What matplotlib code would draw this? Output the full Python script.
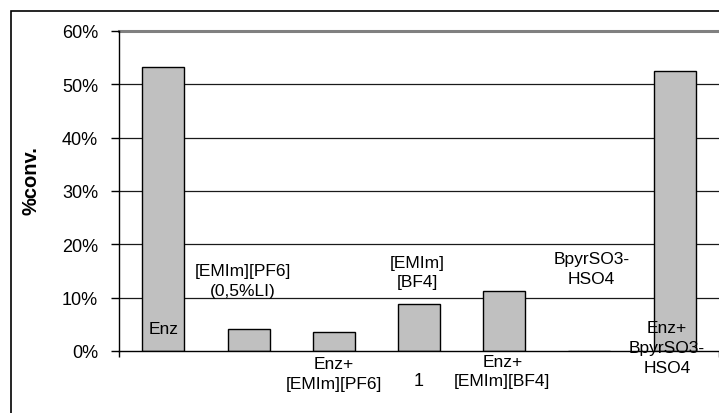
"""Conversion by enzyme / ionic liquid system, single-category Excel-style bar chart."""

import matplotlib
matplotlib.use("Agg")
import matplotlib.pyplot as plt
from matplotlib.patches import Rectangle
from matplotlib.ticker import FuncFormatter

# series names as shown on the data labels
series = [
    "Enz",
    "[EMIm][PF6]\n(0,5%LI)",
    "Enz+\n[EMIm][PF6]",
    "[EMIm]\n[BF4]",
    "Enz+\n[EMIm][BF4]",
    "BpyrSO3-\nHSO4",
    "Enz+\nBpyrSO3-\nHSO4",
]
conversion = [0.532, 0.041, 0.036, 0.088, 0.113, 0.0, 0.525]
category = ["1"]

plt.rcParams["font.family"] = ["Liberation Sans", "DejaVu Sans"]

W, H = 719, 414
fig = plt.figure(figsize=(W / 100, H / 100), dpi=100)
ax = fig.add_axes([119 / W, 62 / H, 1 - 119 / W, (352 - 32) / H])

# one category spanning the axis, seven series side by side
n = len(series)
step = 0.142
width = 0.07
xs = [-step * (n - 1) / 2 + i * step for i in range(n)]
ax.bar(xs, conversion, width=width, color="#c0c0c0", edgecolor="black",
       linewidth=1.0, zorder=3)

ax.set_xlim(-0.5, 0.5)
ax.set_ylim(0, 0.6)
ax.set_yticks([i / 10 for i in range(7)])
ax.yaxis.set_major_formatter(FuncFormatter(lambda v, _: f"{v * 100:.0f}%"))
ax.tick_params(axis="y", direction="out", length=6, width=1, pad=9,
               labelsize=13, colors="black")

ax.set_xticks([0])
ax.set_xticklabels(category)
ax.set_xticks([-0.5, 0.5], minor=True)
ax.tick_params(axis="x", which="major", length=0, pad=15, labelsize=13)
ax.tick_params(axis="x", which="minor", direction="out", length=4.5, width=1)

# horizontal gridlines; the 60% line is the grey plot-area edge
for v in [0.1, 0.2, 0.3, 0.4, 0.5]:
    ax.axhline(v, color="#1a1a1a", lw=0.9, zorder=1)
ax.axhline(0.6, color="#808080", lw=2.2, zorder=1, clip_on=False)

for side in ["top", "right"]:
    ax.spines[side].set_visible(False)
ax.spines["left"].set_linewidth(1.0)
ax.spines["bottom"].set_linewidth(1.0)
ax.spines["bottom"].set_zorder(4)

ax.set_ylabel("%conv.", fontsize=14.5, fontweight="bold")
ax.yaxis.set_label_coords(-0.131, 0.535)

# data labels (series names) placed Excel-style around each bar
label_pos = [
    (0.0, 0.043),
    (-0.01, 0.132),
    (0.0, -0.042),
    (-0.003, 0.148),
    (-0.003, -0.0375),
    (0.003, 0.154),
    (-0.013, 0.006),
]
for x, text, (dx, y) in zip(xs, series, label_pos):
    ax.text(x + dx, y, text, ha="center", va="center", fontsize=12.5,
            linespacing=1.4, zorder=5, clip_on=False)

# chart-area border
fig.add_artist(Rectangle((11 / W, -0.1), 1.2, (H - 12) / H + 0.1,
                         transform=fig.transFigure, fill=False,
                         edgecolor="black", linewidth=1.2))

fig.savefig("out.png", dpi=100)
